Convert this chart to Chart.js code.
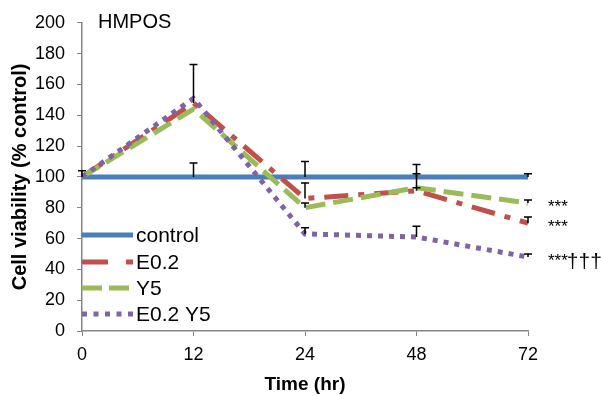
<!DOCTYPE html>
<html>
<head>
<meta charset="utf-8">
<script src="https://cdn.jsdelivr.net/npm/chart.js@4.4.1/dist/chart.umd.min.js"></script>
<style>
  html, body { margin: 0; padding: 0; background: #fff; }
  #wrap { width: 601px; height: 396px; }
</style>
</head>
<body>
<div id="wrap"><canvas id="viabilityChart" width="601" height="396"></canvas></div>
<script>
// ---- data ----
const timeLabels = ["0", "12", "24", "48", "72"];
const seriesNames = ["control", "E0.2", "Y5", "E0.2 Y5"];
const controlValues = [100, 100, 100, 100, 100];
const e02Values = [100, 148, 86, 91, 70];
const y5Values = [100, 144, 80, 93, 83];
const e02y5Values = [100, 151, 63, 61, 48];
// upper error bar lengths
const controlErr = [4, 9, 10, 8, 2];
const e02Err = [0, 25, 10, 2, 4];
const y5Err = [0, 0, 3, 9, 2];
const e02y5Err = [0, 0, 4, 7, 2];
// significance marks next to the last point (stars, daggers)
const sigStars = ["", "***", "***", "***"];
const sigDaggers = ["", "", "", "\u2020\u2020\u2020"];
const yMin = 0, yMax = 200, yStep = 20;

const FONT = "'Liberation Sans', Arial, sans-serif";
const colors = ["#4A7EBB", "#C0504D", "#9BBB59", "#8064A2"];
const dashes = [[], [24, 10, 6, 10], [20, 8], [5, 6]];

const errorBarPlugin = {
    id: "errorBars",
    afterDatasetsDraw(chart) {
        const { ctx, scales: { x, y } } = chart;
        ctx.save();
        ctx.strokeStyle = "#000";
        ctx.lineWidth = 1.5;
        chart.data.datasets.forEach((ds) => {
            ds.data.forEach((v, i) => {
                const e = ds.errUp[i];
                if (!e) return;
                const px = x.getPixelForValue(i);
                const y0 = y.getPixelForValue(v);
                const y1 = y.getPixelForValue(v + e);
                ctx.beginPath();
                ctx.moveTo(px, y0);
                ctx.lineTo(px, y1);
                ctx.moveTo(px - 4, y1);
                ctx.lineTo(px + 4, y1);
                ctx.stroke();
            });
        });
        ctx.restore();
    },
};

const legendPlugin = {
    id: "insideLegend",
    afterDraw(chart) {
        const { ctx, chartArea } = chart;
        const x0 = chartArea.left;
        const rows = [235, 262, 288, 314];
        ctx.save();
        chart.data.datasets.forEach((ds, i) => {
            ctx.strokeStyle = ds.borderColor;
            ctx.lineWidth = 5;
            ctx.setLineDash(ds.legendDash);
            ctx.beginPath();
            ctx.moveTo(x0, rows[i]);
            ctx.lineTo(x0 + 51, rows[i]);
            ctx.stroke();
            ctx.setLineDash([]);
            ctx.fillStyle = "#000";
            ctx.font = "21px " + FONT;
            ctx.textBaseline = "middle";
            ctx.textAlign = "left";
            ctx.fillText(ds.label, x0 + 54, rows[i] + 1);
        });
        // panel label
        ctx.font = "20px " + FONT;
        ctx.fillText("HMPOS", x0 + 16, chartArea.top);
        // significance marks
        const last = timeLabels.length - 1;
        chart.data.datasets.forEach((ds, i) => {
            if (!sigStars[i]) return;
            const py = chart.scales.y.getPixelForValue(ds.data[last]);
            const tx = chartArea.right + 20;
            ctx.font = "17px " + FONT;
            ctx.textBaseline = "alphabetic";
            ctx.fillText(sigStars[i], tx, py + 9);
            if (sigDaggers[i]) {
                const w = ctx.measureText(sigStars[i]).width;
                ctx.font = "21px " + FONT;
                ctx.fillText(sigDaggers[i], tx + w - 1, py + 11);
            }
        });
        ctx.restore();
    },
};

function makeSet(i, data, err, order) {
    return {
        label: seriesNames[i],
        data: data,
        errUp: err,
        borderColor: colors[i],
        backgroundColor: colors[i],
        borderWidth: 5,
        borderDash: dashes[i],
        legendDash: i === 1 ? [26, 18] : i === 2 ? [20, 7] : i === 3 ? [5, 6.5] : [],
        borderCapStyle: "butt",
        pointRadius: 0,
        tension: 0,
        fill: false,
        order: order,
    };
}

new Chart(document.getElementById("viabilityChart"), {
    type: "line",
    data: {
        labels: timeLabels,
        datasets: [
            makeSet(0, controlValues, controlErr, 4),
            makeSet(1, e02Values, e02Err, 3),
            makeSet(2, y5Values, y5Err, 2),
            makeSet(3, e02y5Values, e02y5Err, 1),
        ],
    },
    options: {
        responsive: false,
        animation: false,
        layout: { padding: { top: 20, right: 73, left: 0, bottom: 0 } },
        plugins: { legend: { display: false }, tooltip: { enabled: false } },
        scales: {
            x: {
                offset: false,
                afterFit: (s) => { s.height = 65; },
                ticks: { color: "#000", font: { size: 18, family: FONT }, padding: 8, maxRotation: 0 },
                grid: { drawOnChartArea: false, drawTicks: true, tickLength: 5, color: "#868686", offset: false },
                border: { color: "#868686", width: 1.5 },
                title: {
                    display: true,
                    text: "Time (hr)",
                    color: "#000",
                    font: { size: 19, weight: "bold", family: FONT },
                    padding: { top: 0, bottom: 0 },
                },
            },
            y: {
                min: yMin,
                max: yMax,
                afterFit: (s) => { s.width = 82; },
                ticks: { stepSize: yStep, color: "#000", font: { size: 18, family: FONT }, padding: 12 },
                grid: { drawOnChartArea: false, drawTicks: true, tickLength: 5, color: "#868686" },
                border: { color: "#868686", width: 1.5 },
                title: {
                    display: true,
                    text: "Cell viability (% control)",
                    color: "#000",
                    font: { size: 20, weight: "bold", family: FONT },
                    padding: { top: 8, bottom: 0 },
                },
            },
        },
    },
    plugins: [errorBarPlugin, legendPlugin],
});
</script>
</body>
</html>
